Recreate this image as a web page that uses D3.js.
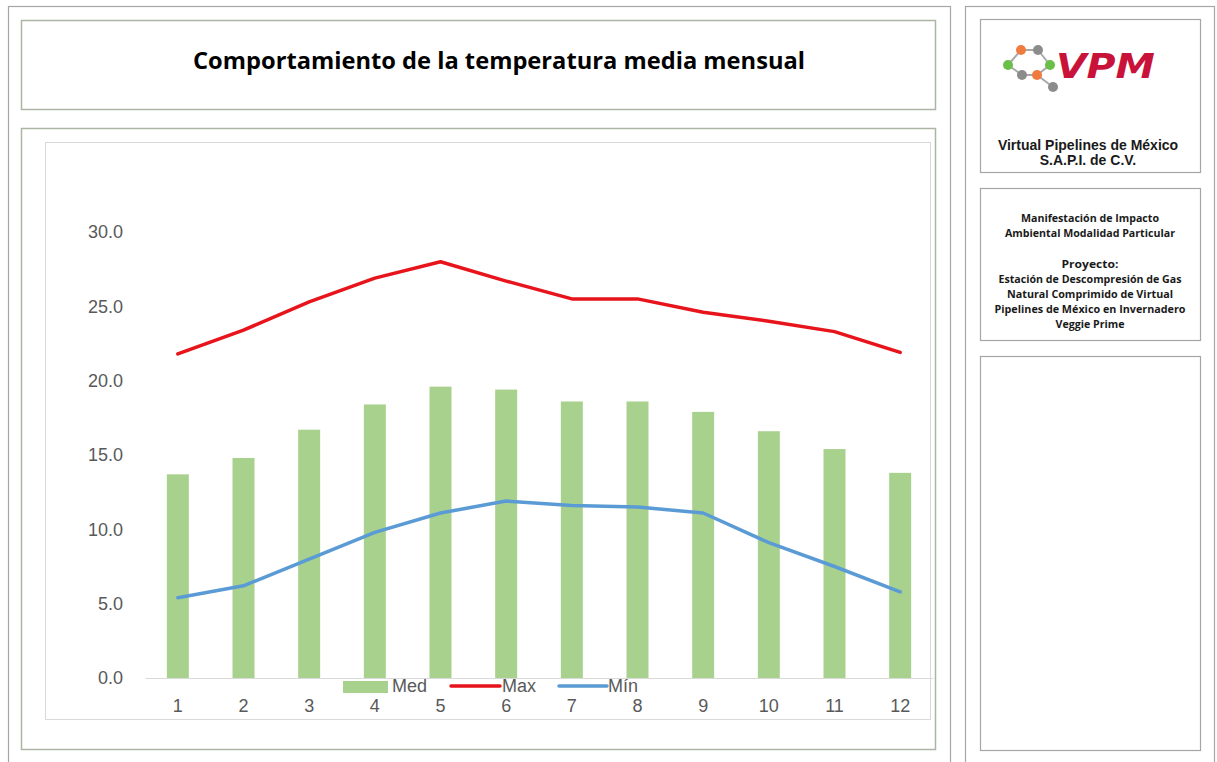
<!DOCTYPE html>
<html>
<head>
<meta charset="utf-8">
<script src="https://cdn.jsdelivr.net/npm/d3@7/dist/d3.min.js"></script>
<style>
  html, body { margin: 0; padding: 0; background: #ffffff; }
  svg { display: block; }
</style>
</head>
<body>
<svg id="chart" width="1217" height="762"></svg>
<script>
// ---------- data ----------
const months = ["1","2","3","4","5","6","7","8","9","10","11","12"];
const medValues = [13.7, 14.8, 16.7, 18.4, 19.6, 19.4, 18.6, 18.6, 17.9, 16.6, 15.4, 13.8];
const maxValues = [21.8, 23.4, 25.3, 26.9, 28.0, 26.7, 25.5, 25.5, 24.6, 24.0, 23.3, 21.9];
const minValues = [5.4, 6.2, 8.0, 9.8, 11.1, 11.9, 11.6, 11.5, 11.1, 9.1, 7.5, 5.8];
const yTicks = [0, 5, 10, 15, 20, 25, 30];
const seriesNames = ["Med", "Max", "Mín"];
const titleText = "Comportamiento de la temperatura media mensual";
const companyLines = ["Virtual Pipelines de México", "S.A.P.I. de C.V."];
const projectLines = [
  "Manifestación de Impacto",
  "Ambiental Modalidad Particular",
  "",
  "Proyecto:",
  "Estación de Descompresión de Gas",
  "Natural Comprimido de Virtual",
  "Pipelines de México en Invernadero",
  "Veggie Prime"
];

// ---------- drawing ----------
const svg = d3.select("#chart");
const colMed = "#a9d18e", colMax = "#e8141b", colMin = "#5b9bd5";
const txtGray = "#595959";
const numFont = "'Liberation Sans', Arial, sans-serif";

// frames
function box(x, y, w, h, stroke, sw) {
  svg.append("rect").attr("x", x + 0.5).attr("y", y + 0.5).attr("width", w).attr("height", h)
    .attr("fill", "none").attr("stroke", stroke).attr("stroke-width", sw || 1);
}
box(8, 6, 942, 770, "#a6a6a6", 1.2);
box(965, 6, 249, 770, "#a6a6a6", 1.2);
box(21, 20, 914, 89, "#aab6a4", 1.5);
box(21, 128, 914, 621, "#aab6a4", 1.5);
box(45, 142, 885, 577, "#d9d9d9", 1);
box(980, 19, 220, 153, "#a6a6a6", 1.2);
box(980, 188, 220, 152, "#a6a6a6", 1.2);
box(980, 356, 220, 394, "#a6a6a6", 1.2);

// title
svg.append("text").attr("x", 499).attr("y", 69).attr("text-anchor", "middle")
  .attr("font-family", "'Open Sans', 'Noto Sans', sans-serif").attr("font-weight", "bold")
  .attr("font-size", 23).attr("fill", "#000")
  .attr("textLength", 612).attr("lengthAdjust", "spacingAndGlyphs")
  .text(titleText);

// scales
const x = d3.scaleBand().domain(months).range([145, 933]).paddingInner(0.665).paddingOuter(0.3325);
const y = d3.scaleLinear().domain([0, 30]).range([678, 232]);
const cx = m => x(m) + x.bandwidth() / 2;

// y axis labels
const yAxis = d3.axisLeft(y).tickValues(yTicks).tickFormat(d3.format(".1f")).tickSize(0).tickPadding(0);
const yg = svg.append("g").attr("transform", "translate(123,0)").call(yAxis);
yg.select(".domain").remove();
yg.selectAll("text").attr("font-family", numFont).attr("font-size", 18).attr("fill", txtGray);

// bars
svg.append("g").selectAll("rect").data(months).join("rect")
  .attr("x", d => x(d)).attr("width", x.bandwidth())
  .attr("y", (d, i) => y(medValues[i])).attr("height", (d, i) => y(0) - y(medValues[i]))
  .attr("fill", colMed);

// baseline / x axis
const xAxis = d3.axisBottom(x).tickSize(0).tickPadding(21);
const xg = svg.append("g").attr("transform", `translate(0,${y(0)})`).call(xAxis);
xg.select(".domain").attr("stroke", "#d9d9d9").attr("stroke-width", 1.2);
xg.selectAll("text").attr("font-family", numFont).attr("font-size", 18).attr("fill", txtGray);

// lines
const line = d3.line().x((d, i) => cx(months[i])).y(d => y(d));
svg.append("path").datum(maxValues).attr("d", line).attr("fill", "none")
  .attr("stroke", colMax).attr("stroke-width", 3.5).attr("stroke-linejoin", "round").attr("stroke-linecap", "round");
svg.append("path").datum(minValues).attr("d", line).attr("fill", "none")
  .attr("stroke", colMin).attr("stroke-width", 3.5).attr("stroke-linejoin", "round").attr("stroke-linecap", "round");

// legend
const lg = svg.append("g").attr("font-family", numFont).attr("font-size", 18).attr("fill", txtGray);
lg.append("rect").attr("x", 343).attr("y", 681).attr("width", 45).attr("height", 12).attr("fill", colMed);
lg.append("text").attr("x", 392).attr("y", 692).text(seriesNames[0]);
lg.append("line").attr("x1", 451).attr("x2", 500).attr("y1", 686).attr("y2", 686)
  .attr("stroke", colMax).attr("stroke-width", 3.5).attr("stroke-linecap", "round");
lg.append("text").attr("x", 502).attr("y", 692).text(seriesNames[1]);
lg.append("line").attr("x1", 559).attr("x2", 607).attr("y1", 686).attr("y2", 686)
  .attr("stroke", colMin).attr("stroke-width", 3.5).attr("stroke-linecap", "round");
lg.append("text").attr("x", 608).attr("y", 692).text(seriesNames[2]);

// logo
const nodes = [
  {x: 1008, y: 65, c: "#6abf4b"},
  {x: 1021, y: 50, c: "#f07b3f"},
  {x: 1038, y: 50, c: "#8c8c8c"},
  {x: 1050, y: 65, c: "#6abf4b"},
  {x: 1037, y: 75, c: "#f07b3f"},
  {x: 1022, y: 75, c: "#8c8c8c"},
  {x: 1053, y: 87, c: "#8c8c8c"}
];
const links = [[0,1],[1,2],[2,3],[3,4],[4,5],[5,0],[4,6]];
const logo = svg.append("g");
logo.selectAll("line").data(links).join("line")
  .attr("x1", d => nodes[d[0]].x).attr("y1", d => nodes[d[0]].y)
  .attr("x2", d => nodes[d[1]].x).attr("y2", d => nodes[d[1]].y)
  .attr("stroke", "#a8a8a8").attr("stroke-width", 2);
logo.selectAll("circle").data(nodes).join("circle")
  .attr("cx", d => d.x).attr("cy", d => d.y).attr("r", 5).attr("fill", d => d.c);
logo.append("text").attr("x", 1056).attr("y", 78)
  .attr("font-family", "'DejaVu Sans', sans-serif").attr("font-weight", "bold").attr("font-style", "italic")
  .attr("font-size", 33).attr("fill", "#c8123a")
  .attr("textLength", 99).attr("lengthAdjust", "spacingAndGlyphs").text("VPM");

// company name
svg.append("g").selectAll("text").data(companyLines).join("text")
  .attr("x", 1088).attr("y", (d, i) => 150 + i * 14.5).attr("text-anchor", "middle")
  .attr("font-family", "'Liberation Sans', Arial, sans-serif").attr("font-weight", "bold")
  .attr("font-size", 14).attr("fill", "#1a1a1a").text(d => d);

// project text
const projWidths = [138, 170, 0, 57, 183, 166, 191, 69];
const projY = [219, 234, 0, 265, 280, 295, 310, 325];
svg.append("g").selectAll("text").data(projectLines.map((t, i) => ({t, i})).filter(d => d.t !== "")).join("text")
  .attr("x", 1090).attr("y", d => projY[d.i] + 3).attr("text-anchor", "middle")
  .attr("font-family", "'Open Sans', 'Noto Sans', sans-serif").attr("font-weight", "bold")
  .attr("font-size", 10.5).attr("fill", "#1a1a1a")
  .attr("textLength", d => projWidths[d.i]).attr("lengthAdjust", "spacingAndGlyphs")
  .text(d => d.t);
</script>
</body>
</html>
